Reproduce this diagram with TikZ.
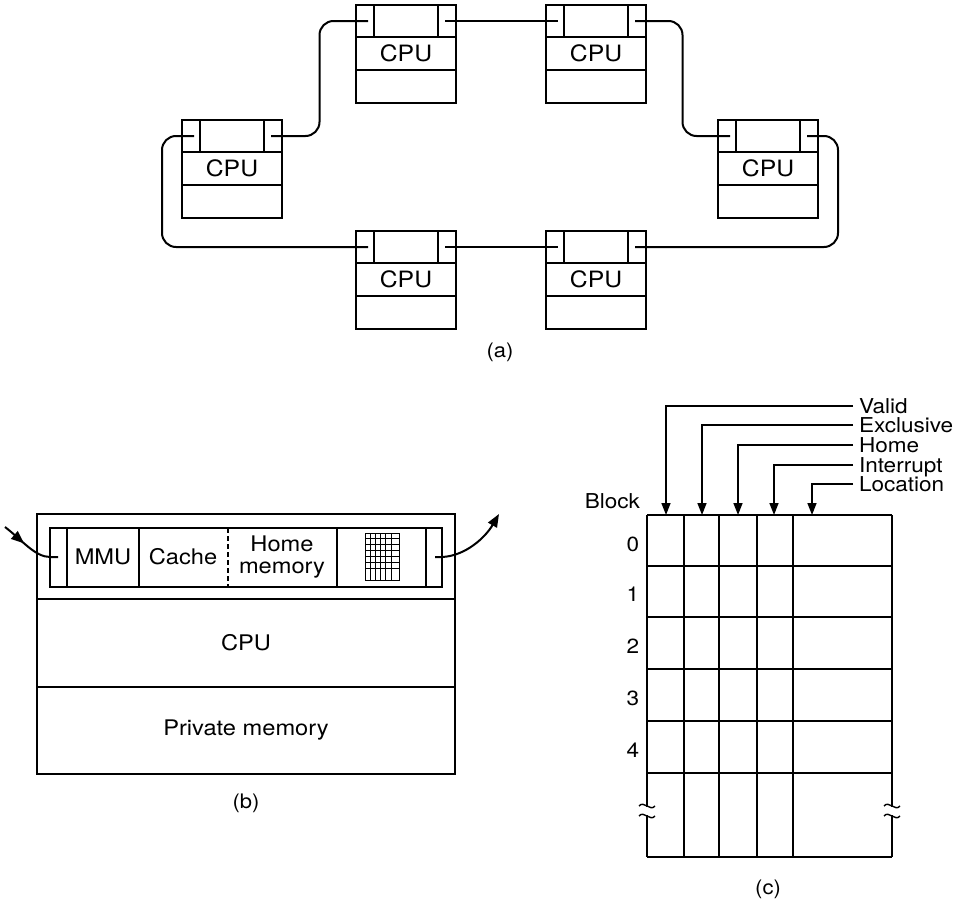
\documentclass[tikz,border=0pt]{standalone}
\usepackage{fontspec}
\setmainfont{TeX Gyre Heros}[FakeStretch=1.1]
\usetikzlibrary{arrows.meta,calc,decorations.markings}

\begin{document}
\begin{tikzpicture}[x=1pt, y=-1pt, line width=2pt,
	every node/.style={font=\fontsize{22.5}{24}\selectfont, inner sep=0pt},
	ring/.style={rounded corners=14pt},
	partb/.style={font=\fontsize{21.5}{22.5}\selectfont},
	caption/.style={font=\fontsize{20}{21}\selectfont},
	tag/.style={font=\fontsize{20.5}{21}\selectfont, anchor=west, inner xsep=5pt, inner ysep=0pt, text height=14.5pt, text depth=0pt},
	tip/.style={-{Triangle[length=12pt,width=9pt]}}]
	\useasboundingbox (0,0) rectangle (967,902);
	% (a) ring of processors
	\foreach \n/\x/\y in {t1/356/5, t2/546/5, l/182/120, r/718/120, b1/356/231, b2/546/231} {
		\draw (\x,\y) rectangle ++(100,98);
		\draw (\x,\y+32) -- ++(100,0) (\x,\y+65) -- ++(100,0);
		\draw (\x+18,\y) -- ++(0,32) (\x+82,\y) -- ++(0,32);
		\node (\n-cpu) at (\x+50,\y+48.5) {CPU};
		\coordinate (\n-l) at (\x+12,\y+16);
		\coordinate (\n-r) at (\x+89,\y+16);
	}
	\draw (t1-r) -- (t2-l);
	\draw (b1-r) -- (b2-l);
	\draw[ring] (l-r) -| ($(l-r)!.5!(t1-l)$) |- (t1-l);
	\draw[ring] (t2-r) -| ($(t2-r)!.5!(r-l)$) |- (r-l);
	\draw[ring] (r-r) -- ++(31,0) |- (b2-r);
	\draw[ring] (b1-l) -| ($(l-l)+(-32,0)$) -- (l-l);
	\node[caption] (cap-a) at (500,352) {(a)};
	% (b) one processor
	\draw (37,514) rectangle (455,774);
	\draw (37,599) -- (455,599) (37,687) -- (455,687);
	\draw (50,528) rectangle (442,587);
	\draw (67,528) -- (67,587) (139,528) -- (139,587) (337,528) -- (337,587) (426,528) -- (426,587);
	\draw[line width=1.5pt, dash pattern=on 5pt off 3pt] (228,528) -- (228,587);
	\node[partb] (mmu) at (103,557) {MMU};
	\node[partb] (cache) at (183,557) {Cache};
	\node[partb, align=center] (homemem) at (282,557) {Home\\memory};
	\node[partb] (cpu) at (246,643) {CPU};
	\node[partb] (priv) at (246,730) {Private memory};
	\draw[line width=1pt] (365,533) rectangle (399,580);
	\foreach \gx in {370.2,375.4,...,391} {\draw[line width=1pt] (\gx,533) -- (\gx,580);}
	\foreach \gy in {538.9,544.8,...,569} {\draw[line width=1pt] (365,\gy) -- (399,\gy);}
	\coordinate (bin) at (5,527);
	\coordinate (bin-end) at (58,557);
	\coordinate (bout-start) at (435,557);
	\coordinate (bout) at (499,514);
	\draw[postaction=decorate, decoration={markings, mark=at position 0.4 with {\arrow{Triangle[length=13pt,width=10pt]}}}]
		(bin) .. controls (22,540) and (35,557) .. (50,557) -- (bin-end);
	\draw[-{Triangle[length=13pt,width=10pt]}] (bout-start) -- (442,557) .. controls (465,556) and (485,538) .. (bout);
	\node[caption] (cap-b) at (246,803) {(b)};
	% (c) block table
	\foreach \cx in {647,684,719,757,793,892} {\draw (\cx,515) -- (\cx,857);}
	\foreach \ry in {515,566,617,669,721,773,857} {\draw (647,\ry) -- (892,\ry);}
	\node[tag, anchor=east, inner xsep=0pt] (block) at (641,501) {Block};
	\foreach \r/\ry in {0/544,1/594,2/646,3/698,4/750} {\node[tag, anchor=center, inner xsep=0pt] (row\r) at (633,\ry) {\r};}
	\foreach \sx in {647,892} {
		\fill[white] (\sx-4,807) rectangle (\sx+4,815);
		\draw[line width=1.4pt] (\sx-8,806) .. controls (\sx-3,800) and (\sx+3,812) .. (\sx+8,806);
		\draw[line width=1.4pt] (\sx-8,816) .. controls (\sx-3,810) and (\sx+3,822) .. (\sx+8,816);
	}
	\foreach \f/\lbl/\ly/\ax in {fvalid/Valid/406/666, fexcl/Exclusive/425/702, fhome/Home/445/738, fint/Interrupt/465/774, floc/Location/484/812} {
		\node[tag] (\f) at (853,\ly) {\lbl};
		\coordinate (\f-in) at (\ax,515);
		\draw[tip, line width=1.5pt] (\f.west) -| (\f-in);
	}
	\node[caption] (cap-c) at (768,889) {(c)};
\end{tikzpicture}
\end{document}
